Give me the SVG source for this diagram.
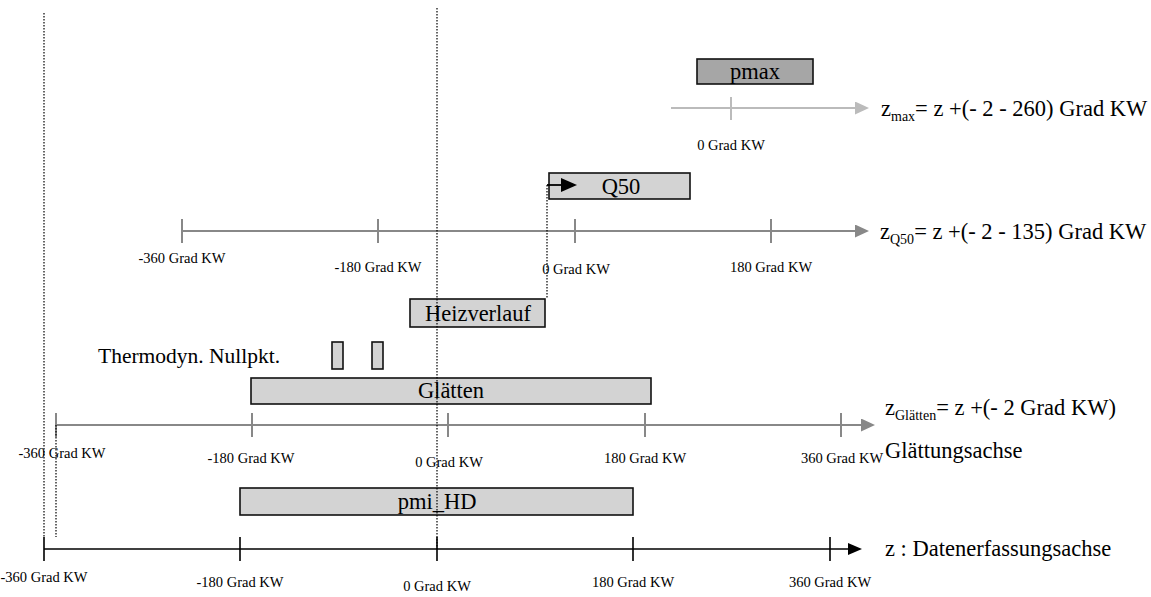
<svg xmlns="http://www.w3.org/2000/svg" width="1151" height="597" viewBox="0 0 1151 597">
<style>
text{font-family:"Liberation Serif","Times New Roman",serif;fill:#000}
.lbl{font-family:"Liberation Serif","Times New Roman",serif;font-size:14.5px;text-anchor:middle}
.big{font-family:"Liberation Serif","Times New Roman",serif;font-size:22.5px}
.box{fill:#d3d3d3;stroke:#111;stroke-width:1.6}
.boxt{font-family:"Liberation Serif","Times New Roman",serif;font-size:22.5px;text-anchor:middle}
.ax{stroke:#888;stroke-width:2;fill:none}
.axl{stroke:#bbb;stroke-width:2;fill:none}
.axb{stroke:#000;stroke-width:1.6;fill:none}
.dot{stroke:#000;stroke-width:1.2;stroke-dasharray:1.5 1.5;fill:none}
.sub{font-size:14px}
</style>
<defs>
<marker id="ag" viewBox="0 0 14 13" refX="0" refY="6.5" markerWidth="14" markerHeight="13" markerUnits="userSpaceOnUse" orient="auto"><path d="M0,0L14,6.5L0,13Z" fill="#888"/></marker>
<marker id="agl" viewBox="0 0 14 13" refX="0" refY="6.5" markerWidth="14" markerHeight="13" markerUnits="userSpaceOnUse" orient="auto"><path d="M0,0L14,6.5L0,13Z" fill="#bbb"/></marker>
<marker id="ab" viewBox="0 0 14 12" refX="0" refY="6" markerWidth="14" markerHeight="12" markerUnits="userSpaceOnUse" orient="auto"><path d="M0,0L14,6L0,12Z" fill="#000"/></marker>
<marker id="abq" viewBox="0 0 16 14" refX="0" refY="7" markerWidth="16" markerHeight="14" markerUnits="userSpaceOnUse" orient="auto"><path d="M0,0L16,7L0,14Z" fill="#000"/></marker>
</defs>

<g id="axis-pmax">
<line class="axl" x1="671" y1="108" x2="855" y2="108" marker-end="url(#agl)"/>
<line class="axl" x1="731" y1="97" x2="731" y2="120"/>
<text class="lbl" x="731" y="150">0 Grad KW</text>
<text class="big" x="881" y="116">z<tspan class="sub" dy="5">max</tspan><tspan dy="-5">= z +(- 2 - 260) Grad KW</tspan></text>
</g>

<g id="axis-q50">
<line class="ax" x1="182" y1="231" x2="855" y2="231" marker-end="url(#ag)"/>
<path class="ax" d="M182,219V243M378,219V243M575,219V243M771,219V243"/>
<text class="lbl" x="182" y="263">-360 Grad KW</text>
<text class="lbl" x="378" y="272">-180 Grad KW</text>
<text class="lbl" x="576" y="274">0 Grad KW</text>
<text class="lbl" x="771" y="272">180 Grad KW</text>
<text class="big" x="880" y="239">z<tspan class="sub" dy="5">Q50</tspan><tspan dy="-5">= z +(- 2 - 135) Grad KW</tspan></text>
</g>

<g id="axis-glaetten">
<line class="ax" x1="56" y1="425" x2="861" y2="425" marker-end="url(#ag)"/>
<path class="ax" d="M56,413V437M252,413V437M448,413V437M645,413V437M841,413V437"/>
<text class="lbl" x="62" y="458">-360 Grad KW</text>
<text class="lbl" x="251" y="463">-180 Grad KW</text>
<text class="lbl" x="449" y="467">0 Grad KW</text>
<text class="lbl" x="645" y="463">180 Grad KW</text>
<text class="lbl" x="842" y="463">360 Grad KW</text>
<text class="big" x="885" y="415">z<tspan class="sub" dy="5">Glätten</tspan><tspan dy="-5">= z +(- 2 Grad KW)</tspan></text>
<text class="big" x="885" y="458">Glättungsachse</text>
</g>

<g id="axis-z">
<line class="axb" x1="44" y1="549" x2="848" y2="549" marker-end="url(#ab)"/>
<path class="axb" d="M44,537V561M240,537V561M437,537V561M633,537V561M830,537V561"/>
<text class="lbl" x="44" y="582">-360 Grad KW</text>
<text class="lbl" x="240" y="587">-180 Grad KW</text>
<text class="lbl" x="437" y="591">0 Grad KW</text>
<text class="lbl" x="633" y="587">180 Grad KW</text>
<text class="lbl" x="830" y="587">360 Grad KW</text>
<text class="big" x="885" y="556">z : Datenerfassungsachse</text>
</g>

<g id="pmax">
<rect x="697" y="59" width="116" height="25" fill="#a6a6a6" stroke="#111" stroke-width="1.6"/>
<text class="boxt" x="755" y="79">pmax</text>
</g>
<g id="q50">
<rect class="box" x="549" y="173" width="141" height="26"/>
<text class="boxt" x="621" y="194">Q50</text>
</g>
<g id="heizverlauf">
<rect class="box" x="410" y="299" width="135" height="28"/>
<text class="boxt" x="478" y="321">Heizverlauf</text>
</g>
<g id="thermodyn">
<text x="98" y="363" style="font-size:21.5px">Thermodyn. Nullpkt.</text>
<rect class="box" x="332" y="342" width="11" height="27"/>
<rect class="box" x="372" y="342" width="11" height="27"/>
</g>
<g id="glaetten">
<rect class="box" x="251" y="378" width="400" height="26"/>
<text class="boxt" x="451" y="398">Glätten</text>
</g>
<g id="pmi-hd">
<rect class="box" x="240" y="488" width="393" height="27"/>
<text class="boxt" x="437" y="509">pmi_HD</text>
</g>

<g id="connectors">
<line class="dot" x1="44" y1="13" x2="44" y2="537"/>
<line class="dot" x1="56" y1="425" x2="56" y2="537"/>
<line class="dot" x1="437" y1="8" x2="437" y2="549"/>
<line class="dot" x1="547" y1="185" x2="547" y2="299"/>
<line x1="547" y1="185" x2="561" y2="185" stroke="#000" stroke-width="1.8" marker-end="url(#abq)"/>
</g>
</svg>
